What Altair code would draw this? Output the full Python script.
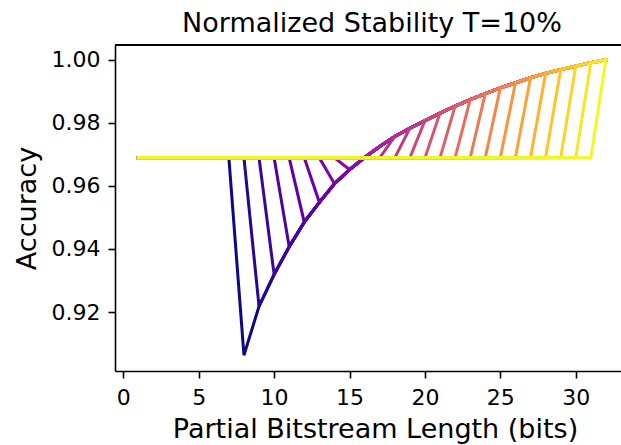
import altair as alt
import pandas as pd

# Partial bitstream lengths (bits) and the accuracy curve
lengths = list(range(1, 33))
curve_x = [8, 9, 10, 11, 12, 13, 14, 15, 16, 17, 18, 19, 20, 21, 22, 23, 24,
           25, 26, 27, 28, 29, 30, 31, 32]
curve_acc = [0.9063, 0.9218, 0.9319, 0.9407, 0.9485, 0.9548, 0.9607, 0.9652,
             0.9690, 0.9725, 0.9757, 0.9783, 0.9807, 0.9831, 0.9853, 0.9874,
             0.9893, 0.9911, 0.9927, 0.9943, 0.9957, 0.9969, 0.9980, 0.9991,
             1.0000]
baseline_acc = 0.9689
switch_points = list(range(7, 32))  # one line per switch point

acc_map = dict(zip(curve_x, curve_acc))
rows = []
for k in switch_points:
    for x in lengths:
        if x <= k:
            y = baseline_acc
        else:
            y = acc_map[x]
        rows.append({"k": k, "x": x, "acc": y})
df = pd.DataFrame(rows)

FONT = "DejaVu Sans"

lines = alt.Chart(df).mark_line(strokeWidth=3, strokeCap="square", clip=True).encode(
    x=alt.X("x:Q",
            scale=alt.Scale(domain=[-0.55, 33.0], nice=False, zero=False),
            axis=alt.Axis(values=[0, 5, 10, 15, 20, 25, 30], format="d",
                          title="Partial Bitstream Length (bits)",
                          titleX=260, titleY=66, titleAlign="center",
                          titleBaseline="alphabetic",
                          labelBaseline="alphabetic", labelPadding=26)),
    y=alt.Y("acc:Q",
            scale=alt.Scale(domain=[0.9013, 1.0047], nice=False, zero=False),
            axis=alt.Axis(values=[0.92, 0.94, 0.96, 0.98, 1.00], format=".2f",
                          title="Accuracy", titleX=-80, titleY=163,
                          titleAlign="center", titleBaseline="alphabetic",
                          labelPadding=8)),
    color=alt.Color("k:Q", scale=alt.Scale(scheme="plasma", domain=[7, 31]),
                    legend=None),
    detail="k:N",
    order="x:Q",
)

top_border = alt.Chart(df).mark_rule(color="black", strokeWidth=1.6).encode(
    y=alt.value(0)
)

chart = alt.layer(lines, top_border).properties(
    width=506,
    height=326,
    padding={"left": 115, "top": 45, "right": 0, "bottom": 74},
    autosize=alt.AutoSizeParams(type="none"),
    title=alt.TitleParams("Normalized Stability T=10%", fontSize=27, font=FONT,
                          fontWeight="normal", color="black", anchor="middle",
                          baseline="alphabetic", offset=13, dx=4, dy=28),
).configure_view(
    strokeOpacity=0
).configure_axis(
    grid=False,
    domainColor="black", domainWidth=1.6,
    tickColor="black", tickWidth=1.6, tickSize=7,
    labelFont=FONT, labelFontSize=22, labelColor="black",
    titleFont=FONT, titleFontSize=27, titleColor="black", titleFontWeight="normal",
)

chart.save("out.html", embed_options={"renderer": "svg", "actions": False})
